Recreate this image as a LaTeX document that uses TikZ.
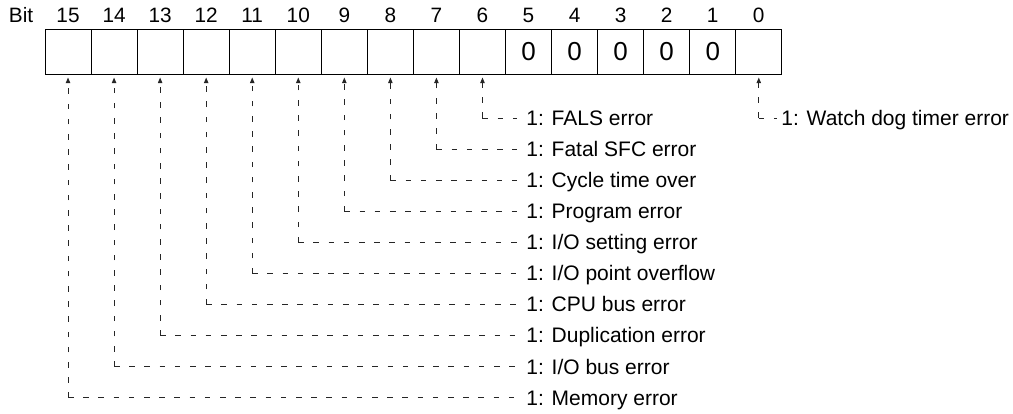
\documentclass[tikz,border=0pt]{standalone}
\usepackage{fontspec}
\setmainfont{Liberation Sans}
\usetikzlibrary{arrows.meta}

\begin{document}
\begin{tikzpicture}[x=0.5pt, y=-0.5pt,
    cell/.style={draw, line width=0.5pt, minimum width=23.02pt, minimum height=22.5pt,
        inner sep=0pt, font=\fontsize{13}{15}\selectfont},
    bitnum/.style={anchor=base, inner sep=0pt, font=\fontsize{10.4}{12}\selectfont},
    desc/.style={anchor=west, inner xsep=4.5pt, inner ysep=0pt, text height=0.72em,
        text depth=0pt, font=\fontsize{10.5}{12}\selectfont},
    leader/.style={line width=0.5pt, black!85, dash pattern=on 2.8pt off 4.8pt},
    pointer/.style={leader, -{Triangle[width=2.2pt, length=2.8pt]}}]
    \useasboundingbox (0,0) rectangle (1013,413);

    % Register: 16 cells, bit 15 on the left
    \node[bitnum, anchor=base west] (bitlbl) at (8.5,22.5) {Bit};
    \foreach \b in {0,...,15} {
        \node[cell] (b\b) at ({45+46.05*(15.5-\b)},51.5) {\ifnum\b>0 \ifnum\b<6 0\fi\fi};
        \node[bitnum] (n\b) at ({45+46.05*(15.5-\b)},22.5) {\b};
    }

    % Error flags for bits 6 to 15
    \foreach \b/\txt [count=\k from 0] in {6/{FALS error}, 7/{Fatal SFC error},
        8/{Cycle time over}, 9/{Program error}, 10/{I/O setting error},
        11/{I/O point overflow}, 12/{CPU bus error}, 13/{Duplication error},
        14/{I/O bus error}, 15/{Memory error}} {
        \node[desc] (t\b) at (517,{118+31.1*\k}) {1: \txt};
        \coordinate (c\b) at (b\b.south |- t\b.west);
        \draw[pointer] (c\b) -- ([yshift=-1.5pt]b\b.south);
        \draw[leader] (c\b) -- (t\b.west);
    }

    % Bit 0
    \node[desc, inner xsep=2pt] (t0) at (777,118) {1: Watch dog timer error};
    \coordinate (c0) at (b0.south |- t0.west);
    \draw[pointer] (c0) -- ([yshift=-1.5pt]b0.south);
    \draw[leader] (c0) -- (t0.west);
\end{tikzpicture}
\end{document}
